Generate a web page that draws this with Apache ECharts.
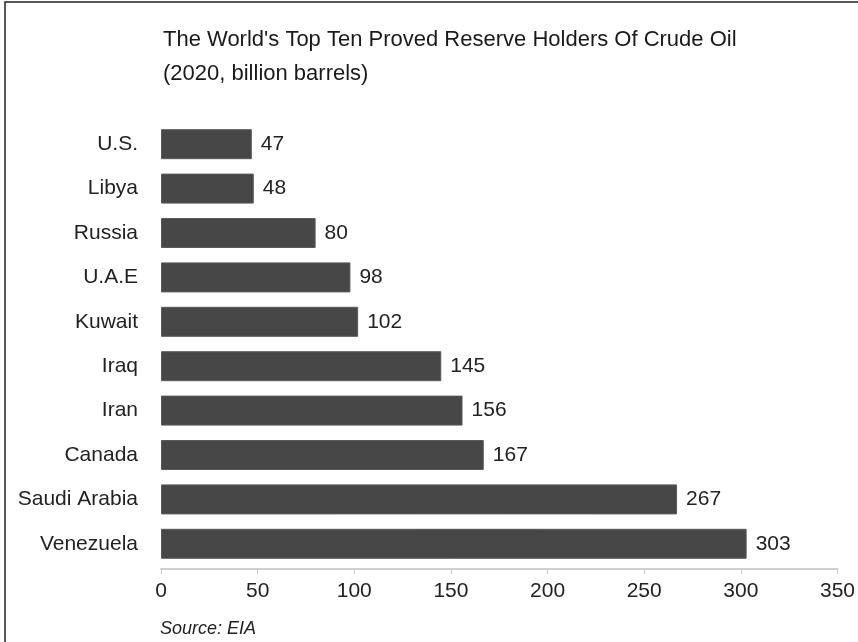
<!DOCTYPE html>
<html>
<head>
<meta charset="utf-8">
<script src="https://cdn.jsdelivr.net/npm/echarts@6/dist/echarts.min.js"></script>
<style>
html,body{margin:0;padding:0;background:#fff;}
#chart{width:858px;height:642px;}
</style>
</head>
<body>
<div id="chart"></div>
<script>
var countries = ['U.S.', 'Libya', 'Russia', 'U.A.E', 'Kuwait', 'Iraq', 'Iran', 'Canada', 'Saudi Arabia', 'Venezuela'];
var reserves = [47, 48, 80, 98, 102, 145, 156, 167, 267, 303];
var titleText = "The World's Top Ten Proved Reserve Holders Of Crude Oil\n(2020, billion barrels)";
var sourceText = 'Source: EIA';

var FONT = '"Liberation Sans", Arial, sans-serif';
var chart = echarts.init(document.getElementById('chart'), null, {renderer: 'canvas'});
chart.setOption({
  animation: false,
  backgroundColor: '#ffffff',
  title: {
    text: titleText,
    left: 158,
    top: 18,
    textStyle: {fontFamily: FONT, fontSize: 22, fontWeight: 'normal', color: '#1a1a1a', lineHeight: 34}
  },
  graphic: [
    {type: 'rect', shape: {x: 5, y: 2, width: 900, height: 700}, style: {fill: 'none', stroke: '#222', lineWidth: 1.5}, silent: true},
    {type: 'text', left: 160, top: 620, style: {text: sourceText, font: 'italic 18px "Liberation Sans", Arial, sans-serif', fill: '#222'}}
  ],
  grid: {left: 161, right: 17, top: 122, height: 444, containLabel: false},
  xAxis: {
    type: 'value', min: 0, max: 350, interval: 50,
    offset: 3,
    axisLine: {show: true, lineStyle: {color: '#d0d0d0', width: 2}},
    axisTick: {show: true, length: 5, lineStyle: {color: '#c8c8c8'}},
    splitLine: {show: false},
    axisLabel: {fontFamily: FONT, fontSize: 21, color: '#222', margin: 12}
  },
  yAxis: {
    type: 'category', data: countries, inverse: true,
    axisLine: {show: false}, axisTick: {show: false},
    axisLabel: {fontFamily: FONT, fontSize: 21, color: '#222', margin: 23}
  },
  series: [{
    type: 'bar', data: reserves, barWidth: 30,
    itemStyle: {color: '#474747', borderColor: '#5a5a5a', borderWidth: 1},
    label: {show: true, position: 'right', distance: 9, fontFamily: FONT, fontSize: 21, color: '#222'}
  }]
});
</script>
</body>
</html>
